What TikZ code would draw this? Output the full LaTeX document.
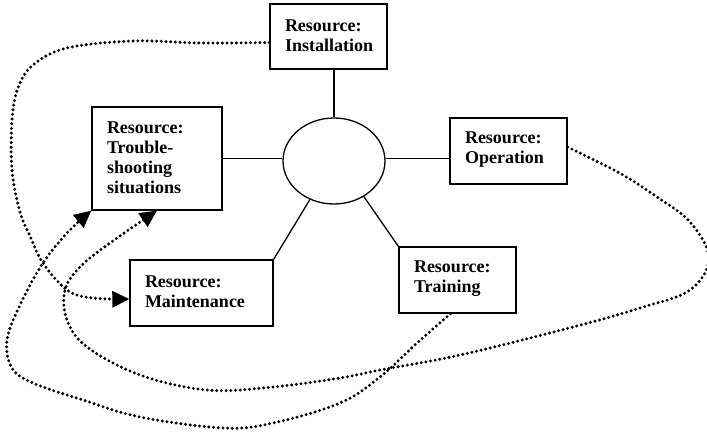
\documentclass[tikz,border=0pt]{standalone}
\usepackage{fontspec}
\setmainfont{Liberation Serif}
\usetikzlibrary{arrows.meta,shapes.geometric}

\tikzset{
  resbox/.style={draw, line width=1.3pt, fill=white, rectangle, inner xsep=15pt, inner ysep=0pt,
    align=left, font=\fontsize{18}{20}\selectfont\bfseries,
    execute at end node={\par\vspace*{2pt}}},
  hub/.style={draw, line width=1.3pt, ellipse, minimum width=102pt, minimum height=86pt, inner sep=0pt},
  spoke/.style={line width=1.3pt},
  dotline/.style={line width=3.3pt, line cap=round, dash pattern=on 0pt off 4.7pt},
  tip/.style={-{Triangle[length=17pt,width=16pt]}}
}

\begin{document}
\begin{tikzpicture}[x=1pt,y=-1pt]
\useasboundingbox (0,0) rectangle (707,435);

% central hub
\node[hub] (hubc) at (334,161) {};

% resource boxes
\node[resbox, minimum width=117pt, minimum height=65pt, text width=87pt]  (inst) at (328.5,36.5) {Resource:\\Installation};
\node[resbox, minimum width=130pt, minimum height=103pt, text width=100pt] (trb) at (157,158.5) {Resource:\\Trouble-\\shooting\\situations};
\node[resbox, minimum width=117pt, minimum height=66pt, text width=87pt]  (opr) at (508.5,151) {Resource:\\Operation};
\node[resbox, minimum width=143pt, minimum height=66pt, text width=113pt] (mnt) at (201.5,293) {Resource:\\Maintenance};
\node[resbox, minimum width=117pt, minimum height=66pt, text width=87pt]  (trn) at (457.5,280) {Resource:\\Training};

% spokes from the hub
\draw[spoke] (hubc.north) -- (hubc.north |- inst.south);
\draw[spoke] (trb.east) -- (hubc.west |- trb.east);
\draw[spoke] (hubc.east |- trb.east) -- (opr.west |- trb.east);
\draw[spoke] (mnt.north east) -- (hubc.238);
\draw[spoke] (trn.north west) -- (hubc.310);

% installation -> maintenance
\draw[dotline, tip] plot[smooth, tension=0.6] coordinates {
  ([yshift=-6pt]inst.west) (200,43) (133,41) (67,48) (33,65) (18,88) (12,120) (12,170)
  (20,212) (30,236) (43,263) (67,290) (92,298) ([yshift=-6pt]mnt.west)};

% operation -> trouble-shooting situations
\draw[dotline, tip] plot[smooth, tension=0.6] coordinates {
  ([yshift=4pt]opr.east) (590,158) (623,175) (657,197) (690,222) (709,258) (690,290)
  (640,308) (573,327) (460,355) (380,370) (340,378) (273,387) (207,390) (140,375)
  (87,347) (67,320) (65,290) (80,267) (110,243) (trb.south)};

% training -> trouble-shooting situations
\draw[dotline, tip] plot[smooth, tension=0.6] coordinates {
  ([xshift=-7pt]trn.south) (417,343) (380,377) (340,403) (273,423) (223,428) (140,417)
  (83,400) (33,383) (12,368) (7,340) (20,305) (43,263) (68,232) (trb.south west)};
\end{tikzpicture}
\end{document}
